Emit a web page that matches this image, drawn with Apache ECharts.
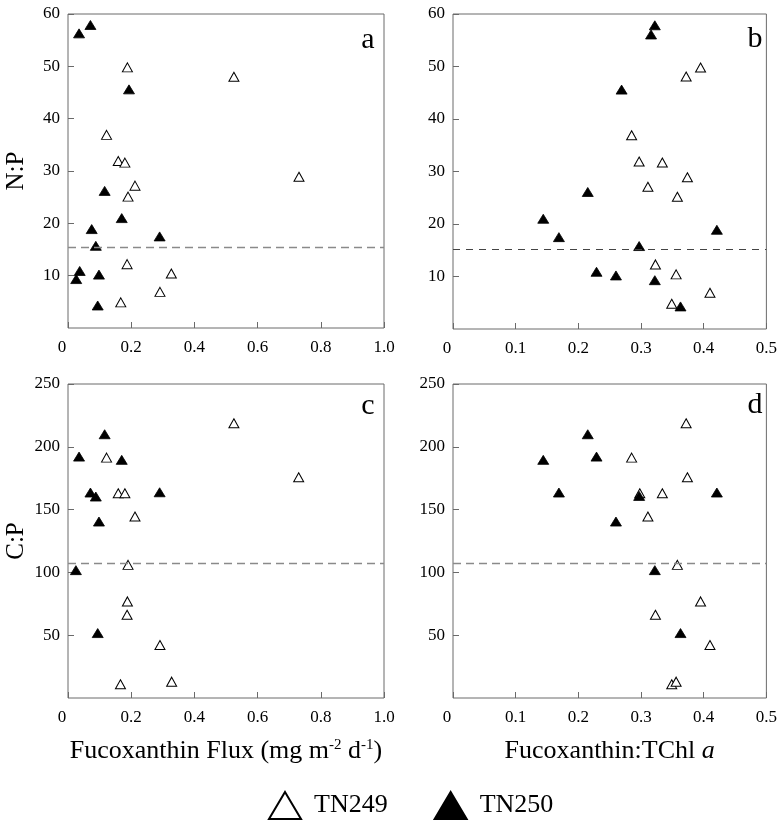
<!DOCTYPE html>
<html>
<head>
<meta charset="utf-8">
<script src="https://cdn.jsdelivr.net/npm/echarts@6/dist/echarts.min.js"></script>
<style>
  html, body { margin: 0; padding: 0; background: #fff; }
  #chart { width: 780px; height: 820px; }
</style>
</head>
<body>
<div id="chart"></div>
<script>
// Panel a: N:P vs fucoxanthin flux
const fluxA249 = [0.188, 0.525, 0.122, 0.159, 0.180, 0.212, 0.190, 0.731, 0.187, 0.327, 0.291, 0.167];
const npA249   = [49.8, 48.0, 36.9, 31.9, 31.6, 27.2, 25.1, 28.9, 12.2, 10.4, 6.9, 4.9];
const fluxA250 = [0.035, 0.071, 0.193, 0.116, 0.170, 0.075, 0.088, 0.290, 0.037, 0.026, 0.098, 0.094];
const npA250   = [56.3, 57.9, 45.6, 26.2, 21.0, 18.9, 15.7, 17.5, 10.9, 9.35, 10.2, 4.3];

// Panel b: N:P vs fucoxanthin:TChl a
const ratioB249 = [0.395, 0.372, 0.285, 0.297, 0.334, 0.311, 0.358, 0.374, 0.323, 0.356, 0.410, 0.349];
const npB249    = [49.8, 48.1, 36.9, 31.9, 31.7, 27.1, 25.2, 28.9, 12.3, 10.4, 6.9, 4.8];
const ratioB250 = [0.322, 0.316, 0.269, 0.215, 0.144, 0.169, 0.297, 0.421, 0.229, 0.260, 0.322, 0.363];
const npB250    = [57.85, 56.1, 45.6, 26.1, 21.0, 17.5, 15.8, 18.9, 10.9, 10.2, 9.3, 4.3];

// Panel c: C:P vs fucoxanthin flux
const fluxC249 = [0.525, 0.122, 0.730, 0.159, 0.180, 0.212, 0.190, 0.188, 0.187, 0.291, 0.166, 0.328];
const cpC249   = [218.7, 191.4, 175.8, 163.0, 163.0, 144.5, 106.0, 76.9, 66.3, 42.2, 10.9, 13.0];
const fluxC250 = [0.116, 0.035, 0.170, 0.071, 0.088, 0.290, 0.098, 0.025, 0.094];
const cpC250   = [210.0, 192.2, 189.6, 163.6, 160.4, 163.8, 140.5, 101.8, 51.7];

// Panel d: C:P vs fucoxanthin:TChl a
const ratioD249 = [0.372, 0.285, 0.374, 0.298, 0.334, 0.311, 0.358, 0.395, 0.323, 0.410, 0.349, 0.356];
const cpD249    = [218.7, 191.4, 175.8, 163.0, 163.0, 144.5, 106.0, 76.9, 66.3, 42.2, 10.9, 13.0];
const ratioD250 = [0.215, 0.229, 0.144, 0.169, 0.297, 0.421, 0.260, 0.322, 0.363];
const cpD250    = [210.0, 192.2, 189.6, 163.6, 160.9, 163.6, 140.5, 101.8, 51.7];

// Dashed reference levels, one per panel (a, b, c, d)
const refLevels = [15.4, 15.1, 107.4, 107.4];
const panelLetters = ['a', 'b', 'c', 'd'];
const cruises = ['TN249', 'TN250'];

const FONT = 'Liberation Serif';
const AXIS_GRAY = '#6a6a6a';
const INK = '#000';

function pairs(xs, ys) { return xs.map((x, i) => [x, ys[i]]); }

const grids = [
  { left: 68,  top: 14,  width: 316, height: 314 },
  { left: 453, top: 14,  width: 316, height: 315 },
  { left: 68,  top: 384, width: 316, height: 314 },
  { left: 453, top: 384, width: 316, height: 314 }
].map(g => Object.assign({ show: true, borderColor: AXIS_GRAY, borderWidth: 1, backgroundColor: 'transparent' }, g));

function xAxisFor(idx, max, interval, name) {
  const ax = {
    gridIndex: idx, type: 'value', min: 0, max: max, interval: interval,
    axisLine: { show: false },
    axisTick: { show: true, inside: true, length: 6, lineStyle: { color: AXIS_GRAY } },
    splitLine: { show: false },
    axisLabel: {
      color: INK, fontFamily: FONT, fontSize: 17, margin: 11,
      // the origin label sits a little left of the corner
      formatter: v => (v === 0 ? '{z|0}' : v.toFixed(1)),
      rich: { z: { fontFamily: FONT, fontSize: 17, color: INK, padding: [0, 12, 0, 0] } }
    }
  };
  if (name) {
    Object.assign(ax, {
      name: name, nameLocation: 'middle', nameGap: 40,
      nameTextStyle: {
        color: INK, fontFamily: FONT, fontSize: 26,
        rich: {
          sup: { fontFamily: FONT, fontSize: 15, color: INK, padding: [0, 0, 12, 0] },
          it: { fontFamily: FONT, fontSize: 26, color: INK, fontStyle: 'italic' }
        }
      }
    });
  }
  return ax;
}

function yAxisFor(idx, max, interval, name) {
  const ax = {
    gridIndex: idx, type: 'value', min: 0, max: max, interval: interval,
    axisLine: { show: false },
    axisTick: { show: true, inside: true, length: 6, lineStyle: { color: AXIS_GRAY } },
    splitLine: { show: false },
    axisLabel: { color: INK, fontFamily: FONT, fontSize: 17, margin: 8, showMinLabel: false }
  };
  if (name) {
    Object.assign(ax, {
      name: name, nameLocation: 'middle', nameGap: 39, nameRotate: 90,
      nameTextStyle: { color: INK, fontFamily: FONT, fontSize: 25 }
    });
  }
  return ax;
}

const openStyle = { color: '#ffffff', borderColor: '#000', borderWidth: 1, opacity: 1 };
const filledStyle = { color: '#000', borderColor: '#000', borderWidth: 0.8, opacity: 1 };

const panelData = [
  [pairs(fluxA249, npA249), pairs(fluxA250, npA250)],
  [pairs(ratioB249, npB249), pairs(ratioB250, npB250)],
  [pairs(fluxC249, cpC249), pairs(fluxC250, cpC250)],
  [pairs(ratioD249, cpD249), pairs(ratioD250, cpD250)]
];

const refStyles = [
  { color: '#8a8a8a', type: [8, 5], width: 1.3 },
  { color: '#444',    type: [7, 6], width: 1 },
  { color: '#8a8a8a', type: [8, 5], width: 1.3 },
  { color: '#8a8a8a', type: [8, 5], width: 1.3 }
];

const series = [];
panelData.forEach((pd, i) => {
  series.push({
    name: cruises[0], type: 'scatter', xAxisIndex: i, yAxisIndex: i,
    symbol: 'triangle', symbolSize: [10, 9],
    itemStyle: openStyle, data: pd[0], z: 3,
    markLine: {
      silent: true, symbol: 'none', label: { show: false },
      lineStyle: refStyles[i], data: [{ yAxis: refLevels[i] }]
    }
  });
  series.push({
    name: cruises[1], type: 'scatter', xAxisIndex: i, yAxisIndex: i,
    symbol: 'triangle', symbolSize: [11, 9],
    itemStyle: filledStyle, data: pd[1], z: 4
  });
});

const letterPos = [[368, 40], [755, 39], [368, 406], [755, 405]];
const graphics = panelLetters.map((t, i) => ({
  type: 'text', x: letterPos[i][0], y: letterPos[i][1],
  style: { text: t, fontFamily: FONT, fontSize: 30, fill: INK, align: 'center', verticalAlign: 'middle' }
}));

const option = {
  backgroundColor: '#fff',
  animation: false,
  textStyle: { fontFamily: FONT },
  grid: grids,
  xAxis: [
    xAxisFor(0, 1.0, 0.2),
    xAxisFor(1, 0.5, 0.1),
    xAxisFor(2, 1.0, 0.2, 'Fucoxanthin Flux (mg m{sup|-2} d{sup|-1})'),
    xAxisFor(3, 0.5, 0.1, 'Fucoxanthin:TChl {it|a}')
  ],
  yAxis: [
    yAxisFor(0, 60, 10, 'N:P'),
    yAxisFor(1, 60, 10),
    yAxisFor(2, 250, 50, 'C:P'),
    yAxisFor(3, 250, 50)
  ],
  legend: {
    data: cruises,
    left: 263, top: 786,
    itemWidth: 32, itemHeight: 27, itemGap: 46,
    itemStyle: { opacity: 1 },
    textStyle: { color: INK, fontFamily: FONT, fontSize: 26, padding: [0, 0, 0, 8] },
    selectedMode: false
  },
  graphic: graphics,
  series: series
};

const chart = echarts.init(document.getElementById('chart'), null, { renderer: 'canvas' });
chart.setOption(option);
</script>
</body>
</html>
